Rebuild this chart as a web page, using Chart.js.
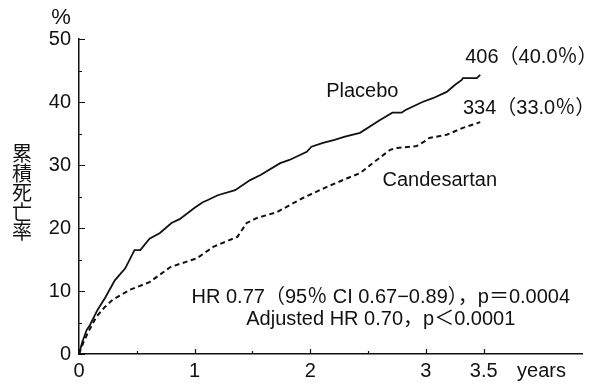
<!DOCTYPE html>
<html>
<head>
<meta charset="utf-8">
<script src="https://cdn.jsdelivr.net/npm/chart.js@4/dist/chart.umd.min.js"></script>
<style>
html,body{margin:0;padding:0;background:#fff;}
#wrap{width:590px;height:388px;position:relative;}
</style>
</head>
<body>
<div id="wrap"><canvas id="c" width="590" height="388"></canvas></div>
<script>
// ---- data ----
const placeboTime = [0,0.03,0.066,0.095,0.16,0.225,0.31,0.40,0.48,0.53,0.61,0.70,0.80,0.87,1.0,1.07,1.11,1.2,1.35,1.48,1.57,1.74,1.82,1.97,2.01,2.11,2.21,2.3,2.43,2.6,2.71,2.79,2.82,2.97,3.06,3.18,3.25,3.31,3.32,3.44,3.47];
const placeboPct  = [0,2.0,3.8,4.6,7.0,8.9,11.7,13.6,16.5,16.5,18.3,19.2,20.8,21.4,23.2,24.1,24.4,25.2,26.0,27.6,28.4,30.3,30.8,32.1,32.9,33.5,34.0,34.5,35.1,37.1,38.3,38.3,38.7,40.0,40.6,41.6,42.7,43.5,43.8,43.8,44.3];
const candesartanTime = [0,0.035,0.08,0.15,0.22,0.29,0.44,0.61,0.79,1.02,1.16,1.37,1.45,1.54,1.71,1.94,2.14,2.32,2.43,2.54,2.69,2.75,2.92,3.01,3.03,3.18,3.32,3.47];
const candesartanPct  = [0,1.7,3.5,5.9,7.4,8.6,10.2,11.4,13.8,15.2,17.0,18.6,20.8,21.6,22.5,24.8,26.5,27.9,28.7,30.3,32.4,32.7,33.0,34.0,34.3,34.8,35.9,36.8];

const xTickValues = [0,1,2,3,3.5,4];
const xTickLabels = ['0','1','2','3','3.5','years'];
const xMarkMajor = [0,1,2,3,3.5];
const xMarkMinor = [0.5,1.5,2.5];
const yTickValues = [0,10,20,30,40,50];
const yMarkMinor = [5,15,25,35,45];
const yUnit = '%';
const yTitle = '累積死亡率';

const seriesLabels = [
  {text:'Placebo', x:2.45, y:41.6, align:'center', size:20},
  {text:'Candesartan', x:3.12, y:27.6, align:'center', size:20},
  {text:'406（40.0％）', x:3.34, y:47.0, align:'left', size:20},
  {text:'334（33.0％）', x:3.32, y:39.0, align:'left', size:20}
];
const notes = [
  {text:'HR 0.77（95％ CI 0.67−0.89），p＝0.0004', x:2.61, y:8.9, align:'center', size:20},
  {text:'Adjusted HR 0.70，p＜0.0001', x:2.61, y:5.4, align:'center', size:20}
];

const FONT = '"Liberation Sans", Arial, "Noto Sans CJK JP", sans-serif';

const toXY = (xs, ys) => xs.map((x,i)=>({x:x, y:ys[i]}));

const decor = {
  id:'decor',
  afterDraw(chart){
    const ctx = chart.ctx, xs = chart.scales.x, ys = chart.scales.y;
    const ca = chart.chartArea;
    ctx.save();
    ctx.strokeStyle = '#111';
    ctx.lineWidth = 1.2;
    // inner tick marks
    ctx.beginPath();
    xMarkMajor.forEach(v=>{const p=Math.round(xs.getPixelForValue(v))+0.5; ctx.moveTo(p,ca.bottom); ctx.lineTo(p,ca.bottom-5);});
    xMarkMinor.forEach(v=>{const p=Math.round(xs.getPixelForValue(v))+0.5; ctx.moveTo(p,ca.bottom); ctx.lineTo(p,ca.bottom-3);});
    yTickValues.forEach(v=>{const p=Math.round(ys.getPixelForValue(v))+0.5; ctx.moveTo(ca.left,p); ctx.lineTo(ca.left+6,p);});
    yMarkMinor.forEach(v=>{const p=Math.round(ys.getPixelForValue(v))+0.5; ctx.moveTo(ca.left,p); ctx.lineTo(ca.left+3,p);});
    ctx.stroke();
    ctx.fillStyle = '#111';
    // unit
    ctx.font = '22px ' + FONT;
    ctx.textAlign = 'center';
    ctx.textBaseline = 'middle';
    ctx.fillText(yUnit, ca.left - 18, ca.top - 21);
    // vertical title
    ctx.font = '20px "Noto Sans CJK JP", sans-serif';
    const chars = Array.from(yTitle);
    const step = 19.5;
    const midY = ys.getPixelForValue(25.6);
    const startY = midY - step*(chars.length-1)/2;
    chars.forEach((ch,i)=>ctx.fillText(ch, 22, startY + i*step));
    // text labels
    seriesLabels.concat(notes).forEach(l=>{
      ctx.font = l.size + 'px ' + FONT;
      ctx.textAlign = l.align;
      ctx.fillText(l.text, xs.getPixelForValue(l.x), ys.getPixelForValue(l.y));
    });
    ctx.restore();
  }
};

new Chart(document.getElementById('c'), {
  type:'scatter',
  data:{
    datasets:[
      {label:'Placebo', data:toXY(placeboTime, placeboPct), showLine:true, borderColor:'#111', borderWidth:1.8, pointRadius:0, tension:0, fill:false},
      {label:'Candesartan', data:toXY(candesartanTime, candesartanPct), showLine:true, borderColor:'#111', borderWidth:2, borderDash:[5,3.5], pointRadius:0, tension:0, fill:false}
    ]
  },
  options:{
    responsive:false,
    animation:false,
    events:[],
    layout:{padding:{top:39, right:8, left:0, bottom:0}},
    plugins:{legend:{display:false}, tooltip:{enabled:false}},
    scales:{
      x:{
        type:'linear', min:0, max:4.35,
        afterBuildTicks(s){ s.ticks = xTickValues.map(v=>({value:v})); },
        afterFit(s){ s.height = 34; },
        ticks:{ padding:5, color:'#111', font:{size:20, family:FONT}, maxRotation:0, autoSkip:false,
          callback(v){ const i = xTickValues.indexOf(v); return i>=0 ? xTickLabels[i] : ''; } },
        grid:{drawOnChartArea:false, drawTicks:false},
        border:{display:true, color:'#111', width:1.5}
      },
      y:{
        type:'linear', min:0, max:50,
        afterBuildTicks(s){ s.ticks = yTickValues.map(v=>({value:v})); },
        afterFit(s){ s.width = 79; },
        ticks:{ padding:8, color:'#111', font:{size:20, family:FONT} },
        grid:{drawOnChartArea:false, drawTicks:false},
        border:{display:true, color:'#111', width:1.5}
      }
    }
  },
  plugins:[decor]
});
</script>
</body>
</html>
